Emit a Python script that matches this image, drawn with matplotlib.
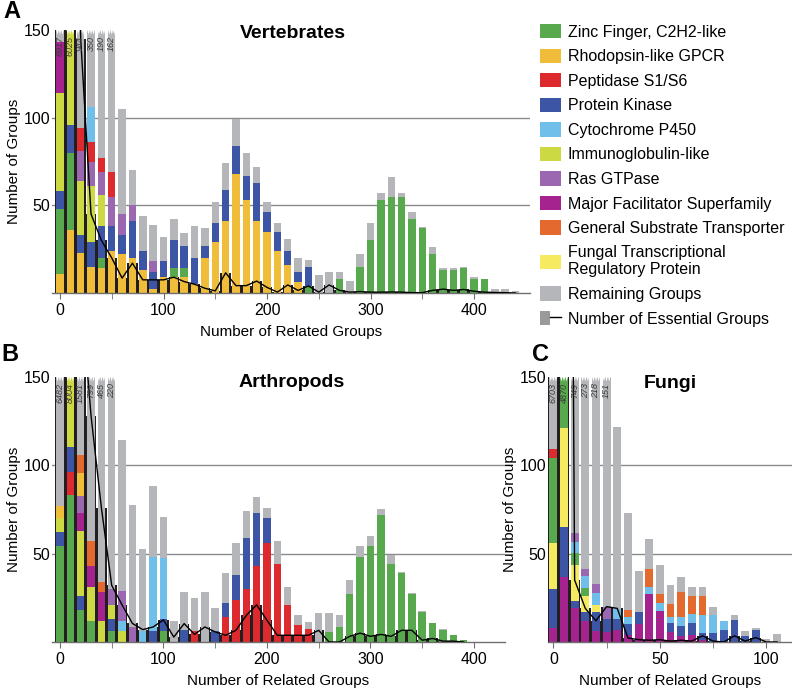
import numpy as np
import matplotlib
matplotlib.use("Agg")
import matplotlib.pyplot as plt
from matplotlib.patches import Patch
from matplotlib.lines import Line2D
from matplotlib.legend_handler import HandlerTuple

plt.rcParams['font.family'] = ['Liberation Sans', 'DejaVu Sans']

# ---- colours / legend ----
COLORS = {
    'zinc': '#58a94d', 'gpcr': '#f0bd3a', 'pep': '#dc2a2e', 'kinase': '#3d55a5',
    'p450': '#70bfea', 'immuno': '#cdd942', 'ras': '#9a67b0', 'mfs': '#a4238f',
    'gst': '#e3692f', 'tf': '#f6ea60', 'rest': '#b5b6b9',
}
legend_keys = ['zinc', 'gpcr', 'pep', 'kinase', 'p450', 'immuno', 'ras', 'mfs', 'gst', 'tf', 'rest']
legend_labels = ['Zinc Finger, C2H2-like', 'Rhodopsin-like GPCR', 'Peptidase S1/S6', 'Protein Kinase',
                 'Cytochrome P450', 'Immunoglobulin-like', 'Ras GTPase', 'Major Facilitator Superfamily',
                 'General Substrate Transporter', 'Fungal Transcriptional\nRegulatory Protein',
                 'Remaining Groups']
ESS_COLOR = '#231f20'

# ---- A: vertebrates (bins of 10) ----
vert_bins = list(range(0, 450, 10))
vert_gpcr = [11, 36, 23, 15, 14, 24, 22, 20, 13, 2, 9, 9, 9, 5, 20, 29, 41, 68, 53, 41, 35, 24, 16, 6,
             0, 0, 0, 0, 0, 0, 0, 0, 0, 0, 0, 0, 0, 0, 0, 0, 0, 0, 0, 0, 0]
vert_zinc = [37, 44, 0, 0, 6, 0, 0, 0, 0, 0, 0, 5, 5, 0, 0, 0, 0, 0, 0, 0, 0, 0, 0, 0,
             4, 0, 0, 8, 0, 15, 30, 53, 55, 55, 42, 37, 22, 13, 13, 14, 8, 8, 0, 0, 0]
vert_kinase = [10, 16, 10, 14, 18, 14, 11, 21, 11, 10, 9, 16, 13, 15, 7, 11, 18, 16, 14, 22, 11, 11, 8, 6,
               11, 0, 0, 0, 0, 0, 0, 0, 0, 0, 0, 0, 0, 0, 0, 0, 0, 0, 0, 0, 0]
vert_immuno = [56, 5929, 31, 32, 18] + [0] * 40
vert_ras = [0, 0, 17, 14, 13, 17, 12, 9, 0, 6] + [0] * 35
vert_pep = [0, 0, 13, 11, 8, 14] + [0] * 39
vert_p450 = [0, 0, 0, 20] + [0] * 41
vert_mfs = [29] + [0] * 44
vert_rest = [6774, 0, 850, 244, 113, 93, 60, 20, 20, 21, 14, 12, 7, 18, 10, 12, 15, 15, 13, 9, 6, 5, 7, 8,
             4, 10, 12, 4, 7, 7, 10, 4, 11, 2, 4, 0.5, 4, 1, 1, 1, 1, 0, 2, 2, 1]
vert_ess = [2000, 500, 145, 45, 30, 20, 8.5, 17, 7.5, 7.5, 7.5, 9, 6.5, 5, 2.7, 1.2, 11.5, 4.2, 4.2, 6.8,
            3.2, 0.5, 4.6, 1.5, 4, 0.5, 4.6, 1.5, 0.5, 0.8, 0.5, 0.5, 0.6, 0.5, 0.2, 0.2, 1.5, 2.2, 1.5, 2,
            1, 0.5, 0.3, 0.2, 0]
vert_top = ['6917', '6025', '944', '350', '190', '162']

# ---- B: arthropods (bins of 10) ----
arth_bins = list(range(0, 400, 10))
arth_zinc = [54, 83, 18, 12, 0, 6, 0, 0, 0, 0, 6, 0, 0, 0, 0, 0, 0, 0, 0, 0,
             0, 0, 0, 0, 0, 0, 5.5, 8.5, 27, 48, 54, 72, 44, 39, 27, 17, 11, 7, 4, 1]
arth_pep = [0, 13, 0, 0, 0, 0, 0, 0, 0, 0, 0, 0, 0, 6, 0, 0, 14, 24, 30, 43,
            56, 44, 21, 9.5, 7.5, 0, 0, 0, 0, 0, 0, 0, 0, 0, 0, 0, 0, 0, 0, 0]
arth_kinase = [8, 14, 8, 0, 0, 7, 0, 0, 0, 6, 7, 0, 7, 0, 0, 6.5, 8, 14, 29, 30,
               14, 0, 0, 0, 0, 0, 0, 0, 0, 0, 0, 0, 0, 0, 0, 0, 0, 0, 0, 0]
arth_immuno = [8, 7894, 37, 19, 12, 8, 6] + [0] * 33
arth_p450 = [0, 0, 0, 0, 0, 0, 6, 0, 6.5, 42, 34.5] + [0] * 29
arth_mfs = [0, 0, 10, 12, 16] + [0] * 35
arth_ras = [0, 0, 9.5, 0, 0, 9, 17, 8.5] + [0] * 32
arth_gpcr = [7, 0, 13] + [0] * 37
arth_gst = [0, 0, 10, 14, 6] + [0] * 35
arth_rest = [6405, 0, 1476, 742, 431, 190, 85, 69, 46, 40, 23, 12, 21, 19, 28, 12.5, 17, 18, 15, 9,
             6, 13, 10, 6, 4, 16.5, 11, 7, 8, 6, 6, 3, 5, 0.5, 0.5, 0.5, 0, 0.5, 0, 0]
arth_ess = [2000, 2000, 200, 128, 76, 32, 21, 10.5, 7, 8.5, 12.5, 2.8, 10.4, 4.3, 8.5, 5.7, 3.8, 6.6, 15, 21,
            12.3, 3.8, 3.8, 3.8, 3.8, 6.6, 0, 0, 3.2, 5, 3.2, 4.3, 3.2, 6.6, 6.6, 1, 2, 0.5, 0.5, 0]
arth_top = ['6482', '8004', '1581', '799', '465', '220']

# ---- C: fungi (bins of 5) ----
fungi_bins = list(range(0, 110, 5))
fungi_mfs = [8, 37, 19, 12, 6, 5.5, 7, 4, 10, 27, 17.5, 5.5, 3.5, 4, 1, 0, 0, 0, 0, 0, 0, 0]
fungi_kinase = [22, 28, 4, 5, 11, 7.5, 6, 6, 7, 0, 0, 5, 5.5, 7, 4, 5, 7, 12.5, 3.5, 7, 0, 0]
fungi_tf = [26, 56, 20.5, 9, 4] + [0] * 17
fungi_zinc = [48, 4749, 7, 4.5] + [0] * 18
fungi_pep = [5] + [0] * 21
fungi_p450 = [0, 0, 6, 7, 6.5, 0, 5.5, 4, 0, 4, 4.5, 3.5, 5, 5, 10, 10, 5, 0, 0, 0, 0, 0]
fungi_ras = [0, 0, 5, 4, 5.5, 7] + [0] * 16
fungi_gst = [0, 0, 0, 0, 0, 0, 0, 4, 0, 10, 5, 7.5, 14.5, 10, 11] + [0] * 7
fungi_rest = [6594, 0, 687.5, 231.5, 185, 131, 103, 55, 23, 17, 16.5, 11, 8.5, 5, 5, 5, 0, 3, 3, 1, 1.5, 4.5]
fungi_ess = [2000, 1000, 35, 19, 12, 20, 19, 2.3, 1.3, 1, 1.3, 0.5, 1, 0.5, 3.5, 0.5, 0, 3.5, 0.5, 2.5, 0, 0]
fungi_top = ['6703', '4870', '749', '273', '218', '151']


def draw_panel(ax, bins, layers, ess, top_labels, width, step, xlim, xmajor, xminor):
    bins = np.array(bins, float)
    bottom = np.zeros(len(bins))
    for vals, key in layers:
        v = np.array(vals, float)
        assert len(v) == len(bins), key
        ax.bar(bins, v, width, bottom=bottom, color=COLORS[key], lw=0, zorder=2)
        bottom += v
    # essential groups: dark bars behind + outline line on top
    ax.bar(bins, ess, step, color=ESS_COLOR, lw=0, zorder=1)
    ax.plot(bins, ess, color='black', lw=1.0, zorder=4, solid_joinstyle='round')

    # truncated bars: serrated top + total count
    for b, lab in zip(bins, top_labels):
        xs = np.linspace(b - width / 2, b + width / 2, 7)
        ys = np.where(np.arange(7) % 2 == 0, 150.0, 147.3)
        px = np.concatenate([[b - width / 2], xs, [b + width / 2]])
        py = np.concatenate([[152], ys, [152]])
        ax.fill(px, py, color='white', lw=0, zorder=3)
        ax.text(b, 146.5, lab, rotation=90, ha='center', va='top', fontsize=6.5,
                style='italic', color='#3a3a3a', zorder=5)

    for g in (50, 100):
        ax.axhline(g, color='#8a8a8a', lw=1.0, zorder=0)
    ax.set_ylim(0, 150)
    ax.set_xlim(*xlim)
    for s in ('top', 'right', 'left'):
        ax.spines[s].set_visible(False)
    ax.spines['bottom'].set_color('#6e6e6e')
    ax.spines['bottom'].set_linewidth(1.0)
    ax.set_yticks([50, 100, 150])
    ax.tick_params(axis='y', length=0, pad=1, labelsize=11.5)
    ax.set_xticks(xmajor)
    ax.set_xticks(xminor, minor=True)
    ax.tick_params(axis='x', which='both', length=4, color='#6e6e6e', pad=3, labelsize=11.5)
    ax.set_xlabel('Number of Related Groups', fontsize=11, labelpad=5)
    ax.set_ylabel('Number of Groups', fontsize=11, labelpad=2)


fig = plt.figure(figsize=(7.92, 6.9), dpi=100)

axA = fig.add_axes([52 / 792, 1 - 293 / 690, 478 / 792, 263 / 690])
draw_panel(axA, vert_bins,
           [(vert_gpcr, 'gpcr'), (vert_zinc, 'zinc'), (vert_kinase, 'kinase'), (vert_immuno, 'immuno'),
            (vert_ras, 'ras'), (vert_pep, 'pep'), (vert_p450, 'p450'), (vert_mfs, 'mfs'), (vert_rest, 'rest')],
           vert_ess, vert_top, 7.2, 10, (-7.7, 454), [0, 100, 200, 300, 400], [50, 150, 250, 350])
axA.text(0.504, 0.985, 'Vertebrates', transform=axA.transAxes, ha='center', va='center',
         fontsize=14, fontweight='bold')

axB = fig.add_axes([52 / 792, 1 - 642 / 690, 453 / 792, 265.3 / 690])
draw_panel(axB, arth_bins,
           [(arth_zinc, 'zinc'), (arth_pep, 'pep'), (arth_kinase, 'kinase'), (arth_immuno, 'immuno'),
            (arth_p450, 'p450'), (arth_mfs, 'mfs'), (arth_ras, 'ras'), (arth_gpcr, 'gpcr'), (arth_gst, 'gst'),
            (arth_rest, 'rest')],
           arth_ess, arth_top, 7.2, 10, (-7.7, 430), [0, 100, 200, 300, 400], [50, 150, 250, 350])
axB.text(0.53, 0.98, 'Arthropods', transform=axB.transAxes, ha='center', va='center',
         fontsize=14, fontweight='bold')

axC = fig.add_axes([548 / 792, 1 - 642 / 690, 244 / 792, 265.3 / 690])
draw_panel(axC, fungi_bins,
           [(fungi_mfs, 'mfs'), (fungi_kinase, 'kinase'), (fungi_tf, 'tf'), (fungi_zinc, 'zinc'),
            (fungi_pep, 'pep'), (fungi_p450, 'p450'), (fungi_ras, 'ras'), (fungi_gst, 'gst'), (fungi_rest, 'rest')],
           fungi_ess, fungi_top, 3.7, 5, (-2.5, 112), [0, 50, 100], [25, 75])
axC.text(0.5, 0.976, 'Fungi', transform=axC.transAxes, ha='center', va='center',
         fontsize=14, fontweight='bold')

# panel letters
fig.text(3 / 792, 1 - 11 / 690, 'A', fontsize=17, fontweight='bold', ha='left', va='center')
fig.text(1 / 792, 1 - 355 / 690, 'B', fontsize=17, fontweight='bold', ha='left', va='center')
fig.text(532 / 792, 1 - 355 / 690, 'C', fontsize=17, fontweight='bold', ha='left', va='center')

# legend
handles = [Patch(facecolor=COLORS[k], lw=0) for k in legend_keys]
handles.append((Patch(facecolor='#9a9a9a', lw=0), Line2D([], [], color='black', lw=1)))
labels = legend_labels + ['Number of Essential Groups']
fig.legend(handles, labels, loc='upper left', bbox_to_anchor=(540 / 792, 1 - 24 / 690),
           frameon=False, fontsize=11.5, handlelength=1.3, handleheight=1.0, handletextpad=0.45,
           labelspacing=0.56, borderpad=0, borderaxespad=0,
           handler_map={tuple: HandlerTuple(ndivide=None)})

fig.savefig('out.png', dpi=100)
